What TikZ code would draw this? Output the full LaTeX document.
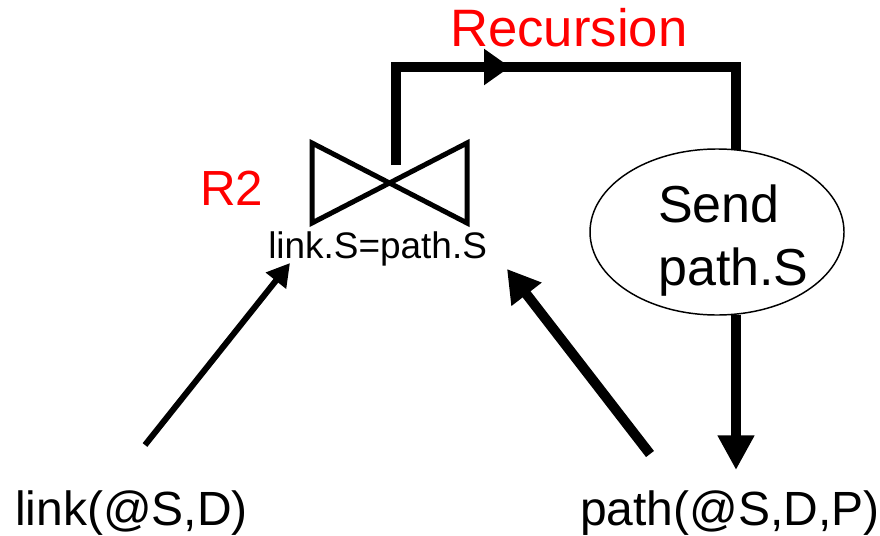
\documentclass[tikz,border=0pt]{standalone}
\usepackage{fontspec}
\setmainfont{Liberation Sans}
\usetikzlibrary{arrows.meta,decorations.markings,shapes.geometric}
\definecolor{rred}{RGB}{255,0,0}
\begin{document}
\begin{tikzpicture}[x=0.75pt,y=-0.75pt,
  txt/.style={inner sep=0pt, anchor=base west},
  big/.style={txt, font=\fontsize{36}{43}\selectfont},
  thickarrow/.style={line width=7.5pt, -{Triangle[length=24pt,width=27pt]}},
  thinarrow/.style={line width=4.5pt, -{Triangle[length=17pt,width=18.5pt]}}]
\useasboundingbox (0,0) rectangle (880,535);

% texts
\node[txt, font=\fontsize{39.5}{47}\selectfont, text=rred] (rec) at (450,47) {Recursion};
\node[txt, font=\fontsize{37}{44}\selectfont, text=rred] (r2) at (200,205) {R2};
\node[txt, font=\fontsize{27.7}{33}\selectfont] (cond) at (268,258) {link.S=path.S};
\node[big] (link) at (15,525) {link(@S,D)};
\node[big] (path) at (580,525) {path(@S,D,P)};

% ellipse
\node[draw, ellipse, line width=1.1pt, minimum width=190.5pt, minimum height=124.5pt, inner sep=0pt] (send) at (717,232) {};
\node[txt, font=\fontsize{39}{46}\selectfont] (send1) at (658,222) {Send};
\node[txt, font=\fontsize{39}{46}\selectfont] (send2) at (658,285) {path.S};

% bowtie join
\draw[line width=3.75pt, line join=miter] (312,143) -- (312,223) -- (467,143) -- (467,223) -- cycle;
\coordinate (jstart) at (396,165);
\coordinate (rtop) at (736,150);
\coordinate (rbot) at (736,315);
\coordinate (ptarget) at (736,470);

% recursion
\draw[line width=7.5pt, line join=miter, postaction={decorate},
  decoration={markings, mark=at position 0.407 with {\arrow{Triangle[length=19.5pt,width=26pt]}}}]
  (jstart) -- (396,67) -- (736,67) -- (rtop);

% input arrows
\coordinate (ltail) at (145,445);
\coordinate (ltip) at (290,263);
\coordinate (ptail) at (650,454);
\coordinate (ptip) at (507,269);
\draw[thinarrow] (ltail) -- (ltip);
\draw[thickarrow] (ptail) -- (ptip);
\draw[line width=8pt, -{Triangle[length=26pt,width=26pt]}] (rbot) -- (ptarget);
\end{tikzpicture}
\end{document}
